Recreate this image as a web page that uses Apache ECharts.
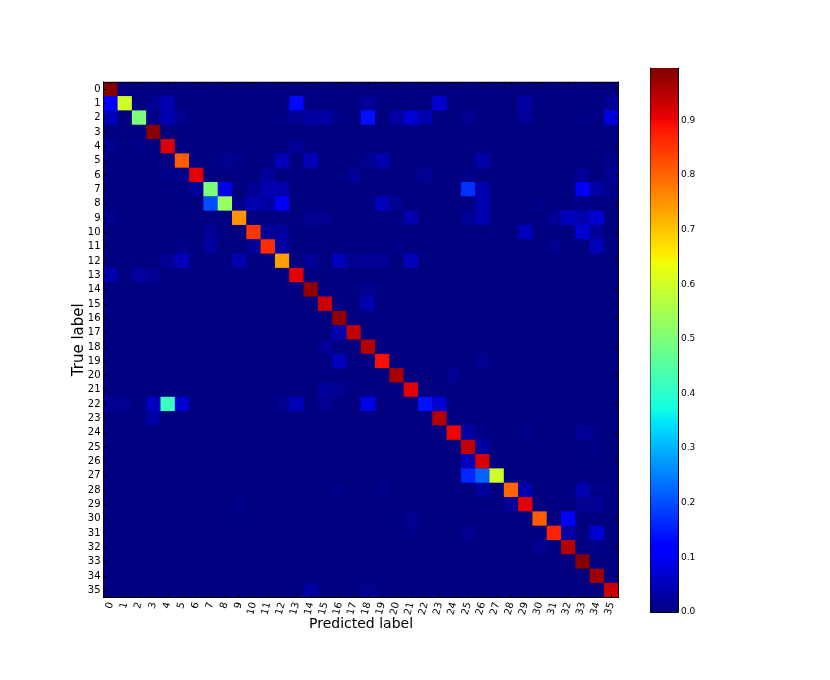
<!DOCTYPE html>
<html>
<head>
<meta charset="utf-8">
<style>html,body{margin:0;padding:0;background:#fff}#c{width:830px;height:680px}</style>
<script src="https://cdn.jsdelivr.net/npm/echarts@6/dist/echarts.min.js"></script>
</head>
<body>
<div id="c"></div>
<script>
const labels = Array.from({length:36},(_, i)=>String(i));
const colorbarTicks = ['0.0','0.1','0.2','0.3','0.4','0.5','0.6','0.7','0.8','0.9'];
const maxValue = 0.996;
const diagonal = [0.99,0.60,0.50,0.99,0.92,0.81,0.91,0.50,0.53,0.75,0.85,0.86,0.74,0.91,0.98,0.93,0.98,0.94,
                  0.95,0.89,0.96,0.91,0.14,0.95,0.90,0.94,0.92,0.60,0.80,0.91,0.81,0.87,0.95,0.99,0.97,0.93];
// [true row, predicted col, value]
const offDiagonal = [
 [1,0,.11],[1,3,.015],[1,4,.04],[1,13,.13],[1,18,.02],[1,23,.07],[1,29,.03],[1,35,.02],
 [2,0,.05],[2,3,.01],[2,4,.04],[2,5,.015],[2,12,.01],[2,13,.02],[2,14,.03],[2,15,.03],[2,16,.01],[2,18,.14],[2,20,.03],[2,21,.07],[2,22,.04],[2,25,.015],[2,29,.02],[2,33,.01],[2,35,.08],
 [4,0,.015],[4,2,.01],[4,13,.02],
 [5,8,.015],[5,9,.01],[5,12,.05],[5,14,.05],[5,18,.015],[5,19,.04],[5,26,.035],[5,35,.01],
 [6,4,.01],[6,5,.01],[6,11,.025],[6,17,.02],[6,22,.015],[6,25,.01],[6,33,.02],[6,35,.015],
 [7,5,.005],[7,6,.02],[7,8,.09],[7,10,.02],[7,11,.04],[7,12,.04],[7,25,.17],[7,26,.04],[7,33,.1],[7,34,.03],[7,35,.01],
 [8,5,.005],[8,7,.2],[8,9,.01],[8,10,.04],[8,11,.03],[8,12,.1],[8,19,.05],[8,20,.015],[8,26,.04],[8,30,.01],[8,33,.01],
 [9,0,.015],[9,14,.015],[9,15,.015],[9,21,.04],[9,25,.02],[9,26,.04],[9,31,.02],[9,32,.05],[9,33,.04],[9,34,.07],
 [10,7,.02],[10,11,.02],[10,12,.025],[10,29,.05],[10,33,.07],[10,34,.02],
 [11,5,.01],[11,7,.025],[11,10,.02],[11,12,.03],[11,20,.01],[11,31,.015],[11,34,.05],
 [12,4,.015],[12,5,.05],[12,9,.04],[12,14,.02],[12,16,.05],[12,17,.015],[12,18,.02],[12,19,.02],[12,21,.05],
 [13,0,.04],[13,2,.03],[13,3,.015],
 [14,18,.015],[15,18,.04],[17,16,.04],[18,15,.02],[18,16,.005],[19,16,.05],[19,26,.015],[20,24,.015],[21,15,.025],[21,16,.015],
 [22,0,.015],[22,1,.015],[22,3,.05],[22,4,.42],[22,5,.07],[22,12,.015],[22,13,.05],[22,15,.015],[22,18,.09],[22,23,.07],
 [23,3,.03],
 [24,25,.03],[24,26,.01],[24,29,.01],[24,33,.02],[24,34,.01],
 [25,26,.03],[25,34,.01],[26,25,.05],[26,34,.005],[27,25,.16],[27,26,.22],
 [28,16,.01],[28,19,.01],[28,26,.025],[28,29,.04],[28,32,.005],[28,33,.04],[28,34,.01],[28,35,.005],
 [29,9,.01],[29,28,.02],[29,33,.015],[29,34,.02],
 [30,9,.005],[30,20,.005],[30,21,.015],[30,24,.005],[30,32,.11],
 [31,21,.01],[31,25,.015],[31,32,.03],[31,34,.07],
 [32,30,.015],[32,34,.01],[35,14,.03],[35,18,.015]
];

// matplotlib "jet" colormap
function jet(t){
  const seg=(p)=>{for(let i=1;i<p.length;i++){if(t<=p[i][0]){const a=p[i-1],b=p[i];return a[1]+(b[1]-a[1])*(t-a[0])/(b[0]-a[0]);}}return p[p.length-1][1];};
  const r=seg([[0,0],[.35,0],[.66,1],[.89,1],[1,.5]]);
  const g=seg([[0,0],[.125,0],[.375,1],[.64,1],[.91,0],[1,0]]);
  const b=seg([[0,.5],[.11,1],[.34,1],[.65,0],[1,0]]);
  return 'rgb('+Math.round(r*255)+','+Math.round(g*255)+','+Math.round(b*255)+')';
}
const jetColors = Array.from({length:256},(_, i)=>jet(i/255));

const cells = new Map();
labels.forEach((_, i)=>{labels.forEach((_, j)=>cells.set(i+'_'+j,0));});
diagonal.forEach((v,i)=>cells.set(i+'_'+i,v));
offDiagonal.forEach(([r,c,v])=>cells.set(r+'_'+c,v));
const heatData = [];
cells.forEach((v,k)=>{const [r,c]=k.split('_').map(Number);heatData.push([c,r,v]);});

const font = 'DejaVu Sans';
const tick = {show:true,inside:true,length:3,alignWithLabel:true,lineStyle:{color:'#000',width:1}};
const line = {show:true,onZero:false,lineStyle:{color:'#000',width:1}};
const chart = echarts.init(document.getElementById('c'),null,{renderer:'canvas'});
chart.setOption({
  animation:false,
  backgroundColor:'#fff',
  textStyle:{fontFamily:font},
  grid:[
    {left:103.5,top:82,width:515,height:515.5,containLabel:false,show:true,backgroundColor:'#000080',borderWidth:0},
    {left:650.5,top:68,width:27.5,height:544,containLabel:false}
  ],
  visualMap:{show:false,min:0,max:maxValue,seriesIndex:0,inRange:{color:jetColors}},
  xAxis:[
    {type:'category',gridIndex:0,data:labels,position:'bottom',boundaryGap:true,
     axisLine:line,axisTick:tick,splitLine:{show:false},
     axisLabel:{interval:0,rotate:75,fontSize:10,color:'#000',margin:5,fontFamily:font},
     name:'Predicted label',nameLocation:'middle',nameGap:19.5,nameMoveOverlap:false,nameTextStyle:{fontSize:14,color:'#000',fontFamily:font},z:5},
    {type:'category',gridIndex:0,data:labels,position:'top',boundaryGap:true,
     axisLine:line,axisTick:tick,axisLabel:{show:false},splitLine:{show:false},z:5},
    {type:'category',gridIndex:1,data:['bar'],axisLine:{show:true,onZero:false,lineStyle:{color:'#000'}},axisTick:{show:false},axisLabel:{show:false},splitLine:{show:false}},
    {type:'category',gridIndex:1,data:['bar'],position:'top',axisLine:{show:true,onZero:false,lineStyle:{color:'#000'}},axisTick:{show:false},axisLabel:{show:false},splitLine:{show:false}}
  ],
  yAxis:[
    {type:'category',gridIndex:0,data:labels,inverse:true,position:'left',boundaryGap:true,
     axisLine:line,axisTick:tick,splitLine:{show:false},
     axisLabel:{interval:0,fontSize:10,color:'#000',margin:3,fontFamily:font},
     name:'True label',nameLocation:'middle',nameGap:17,nameRotate:90,nameMoveOverlap:false,nameTextStyle:{fontSize:15,color:'#000',fontFamily:font},z:5},
    {type:'category',gridIndex:0,data:labels,inverse:true,position:'right',boundaryGap:true,
     axisLine:line,axisTick:tick,axisLabel:{show:false},splitLine:{show:false},z:5},
    {type:'value',gridIndex:1,min:0,max:maxValue,interval:0.1,position:'right',
     axisLine:{show:true,onZero:false,lineStyle:{color:'#000'}},
     axisTick:{show:true,inside:true,length:3,lineStyle:{color:'#000'}},splitLine:{show:false},
     axisLabel:{fontSize:9,color:'#000',margin:3,fontFamily:font,showMaxLabel:false,
       formatter:(v)=>colorbarTicks[Math.round(v*10)]||''}},
    {type:'value',gridIndex:1,min:0,max:maxValue,position:'left',
     axisLine:{show:true,onZero:false,lineStyle:{color:'#000'}},axisTick:{show:false},axisLabel:{show:false},splitLine:{show:false}}
  ],
  series:[
    {type:'heatmap',xAxisIndex:0,yAxisIndex:0,data:heatData,progressive:0,emphasis:{disabled:true},itemStyle:{borderWidth:0}},
    {type:'bar',xAxisIndex:2,yAxisIndex:2,data:[maxValue],barWidth:'100%',silent:true,
     itemStyle:{color:new echarts.graphic.LinearGradient(0,1,0,0,jetColors.map((c,i)=>({offset:i/255,color:c})))}}
  ]
});
</script>
</body>
</html>
